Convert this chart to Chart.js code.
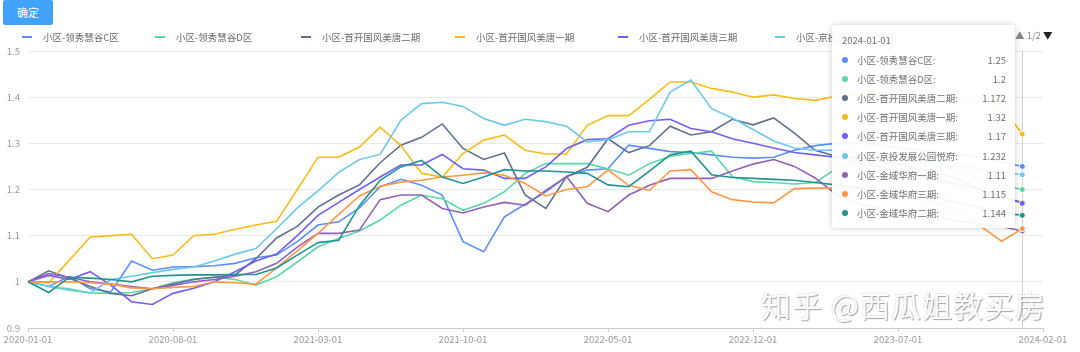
<!DOCTYPE html>
<html>
<head>
<meta charset="utf-8">
<script src="https://cdn.jsdelivr.net/npm/chart.js@4.4.1/dist/chart.umd.min.js"></script>
<style>
    html, body { margin: 0; padding: 0; background: #fff; }
    body { width: 1080px; height: 352px; position: relative; overflow: hidden;
        font-family: "Noto Sans CJK SC", "Noto Sans", sans-serif; }
    #myChart { position: absolute; left: 0; top: 0; }
    .btn { position: absolute; left: 3px; top: 0; width: 50px; height: 25px; background: #40a2fb;
        color: #fff; font-size: 11px; line-height: 25px; text-align: center; border-radius: 2px; }
    .legend-item { position: absolute; top: 30px; height: 14px; font-size: 9.5px; color: #6a6a6a;
        line-height: 14px; white-space: nowrap; }
    .legend-item i { position: absolute; left: 0; top: 6px; width: 10px; height: 2px; }
    .legend-item span { position: absolute; left: 21px; top: 0; }
    .pager { position: absolute; left: 1015px; top: 28px; font-size: 9.5px; color: #888; line-height: 14px; }
    .pager b { color: #222; font-weight: normal; }
    .tip { position: absolute; left: 832px; top: 25px; width: 183px; height: 203px;
        background: rgba(255,255,255,0.93); border-radius: 3px;
        box-shadow: 0 0 6px rgba(0,0,0,0.2); font-size: 9.5px; color: #707070; }
    .tip .title { position: absolute; left: 10px; top: 8px; }
    .tip .row { position: absolute; left: 0; width: 183px; height: 14px; line-height: 14px; }
    .tip .row i { position: absolute; left: 10px; top: 4px; width: 6px; height: 6px; border-radius: 50%; }
    .tip .row span { position: absolute; left: 25px; }
    .tip .row em { position: absolute; right: 9px; font-style: normal; }
    .mark { position: absolute; left: 761px; top: 282px; font-size: 30px; color: rgba(255,255,255,0.95);
        text-shadow: 1px 1px 1px rgba(0,0,0,0.35), -1px -1px 0 rgba(0,0,0,0.08); letter-spacing: 1px; white-space: nowrap; }
</style>
</head>
<body>
<canvas id="myChart" width="1080" height="352"></canvas>
<div class="btn">确定</div>
<div id="legend"></div>
<div class="pager">▲ 1/2 <b>▼</b></div>
<div class="mark">知乎 @西瓜姐教买房</div>
<div class="tip" id="tip"></div>
<script>
let months = [
    '2020-01-01', '2020-02-01', '2020-03-01', '2020-04-01', '2020-05-01', '2020-06-01', '2020-07-01', '2020-08-01', '2020-09-01', '2020-10-01',
    '2020-11-01', '2020-12-01', '2021-01-01', '2021-02-01', '2021-03-01', '2021-04-01', '2021-05-01', '2021-06-01', '2021-07-01', '2021-08-01',
    '2021-09-01', '2021-10-01', '2021-11-01', '2021-12-01', '2022-01-01', '2022-02-01', '2022-03-01', '2022-04-01', '2022-05-01', '2022-06-01',
    '2022-07-01', '2022-08-01', '2022-09-01', '2022-10-01', '2022-11-01', '2022-12-01', '2023-01-01', '2023-02-01', '2023-03-01', '2023-04-01',
    '2023-05-01', '2023-06-01', '2023-07-01', '2023-08-01', '2023-09-01', '2023-10-01', '2023-11-01', '2023-12-01', '2024-01-01', '2024-02-01'
];
let yTicks = [0.9, 1, 1.1, 1.2, 1.3, 1.4, 1.5];

let names = ['小区-领秀慧谷C区', '小区-领秀慧谷D区', '小区-首开国风美唐二期', '小区-首开国风美唐一期', '小区-首开国风美唐三期',
    '小区-京投发展公园悦府', '小区-金域华府一期', '小区-金域华府三期', '小区-金域华府二期'];
let colors = ['#5B8FF9', '#5AD8A6', '#5D7092', '#F6BD16', '#6F5EF9', '#6DC8EC', '#945FB9', '#FF9845', '#1E9493'];

let lingxiuC = [
    1.0, 0.99, 1.012, 0.985, 0.978, 1.045, 1.025, 1.032, 1.033, 1.035,
    1.04, 1.052, 1.058, 1.087, 1.123, 1.13, 1.16, 1.206, 1.222, 1.209,
    1.188, 1.087, 1.065, 1.141, 1.168, 1.195, 1.228, 1.242, 1.245, 1.296,
    1.289, 1.282, 1.28, 1.275, 1.27, 1.268, 1.27, 1.285, 1.295, 1.3,
    1.3, 1.298, 1.29, 1.285, 1.28, 1.275, 1.27, 1.26, 1.25
];
let lingxiuD = [
    1.0, 0.99, 0.982, 0.976, 0.975, 0.977, 0.985, 0.998, 1.006, 1.01,
    1.005, 0.993, 1.011, 1.043, 1.076, 1.094, 1.11, 1.134, 1.166, 1.188,
    1.18, 1.155, 1.17, 1.195, 1.235, 1.256, 1.256, 1.256, 1.245, 1.231,
    1.256, 1.272, 1.278, 1.283, 1.228, 1.217, 1.215, 1.212, 1.215, 1.245,
    1.262, 1.268, 1.265, 1.258, 1.25, 1.24, 1.225, 1.21, 1.2
];
let shoukai2 = [
    1.0, 1.024, 1.008, 0.99, 0.975, 0.97, 0.985, 0.995, 1.005, 1.01,
    1.015, 1.05, 1.095, 1.12, 1.162, 1.188, 1.21, 1.258, 1.296, 1.313,
    1.342, 1.289, 1.265, 1.279, 1.188, 1.159, 1.228, 1.248, 1.31, 1.28,
    1.295, 1.337, 1.318, 1.325, 1.352, 1.34, 1.355, 1.322, 1.285, 1.272,
    1.268, 1.262, 1.255, 1.245, 1.235, 1.22, 1.2, 1.185, 1.172
];
let shoukai1 = [
    1.0, 0.998, 1.047, 1.097, 1.1, 1.103, 1.05, 1.058, 1.1, 1.103,
    1.114, 1.123, 1.131, 1.2, 1.27, 1.27, 1.292, 1.335, 1.295, 1.235,
    1.227, 1.278, 1.307, 1.318, 1.285, 1.277, 1.277, 1.339, 1.36, 1.36,
    1.395, 1.433, 1.433, 1.419, 1.411, 1.4, 1.405, 1.397, 1.393, 1.402,
    1.405, 1.41, 1.405, 1.4, 1.4, 1.395, 1.39, 1.38, 1.32
];
let shoukai3 = [
    1.0, 1.014, 1.005, 1.022, 0.993, 0.957, 0.951, 0.975, 0.986, 1.0,
    1.022, 1.045, 1.06, 1.1, 1.144, 1.172, 1.2, 1.227, 1.253, 1.253,
    1.276, 1.245, 1.242, 1.224, 1.224, 1.249, 1.289, 1.308, 1.31, 1.339,
    1.349, 1.352, 1.332, 1.325, 1.31, 1.3, 1.29, 1.28, 1.275, 1.27,
    1.26, 1.25, 1.24, 1.23, 1.22, 1.21, 1.2, 1.185, 1.17
];
let jingtou = [
    1.0, 0.99, 0.985, 0.976, 1.005, 1.012, 1.02, 1.027, 1.032, 1.045,
    1.06, 1.072, 1.115, 1.16, 1.197, 1.237, 1.265, 1.276, 1.35, 1.386,
    1.389, 1.38, 1.354, 1.339, 1.352, 1.347, 1.337, 1.303, 1.308, 1.325,
    1.325, 1.411, 1.437, 1.375, 1.355, 1.33, 1.305, 1.29, 1.285, 1.285,
    1.28, 1.275, 1.27, 1.262, 1.255, 1.25, 1.245, 1.238, 1.232
];
let jinyu1 = [
    1.0, 1.018, 1.01, 1.0, 0.995, 0.99, 0.985, 0.992, 1.0, 1.005,
    1.012, 1.022, 1.04, 1.075, 1.105, 1.105, 1.112, 1.178, 1.188, 1.188,
    1.159, 1.149, 1.162, 1.172, 1.166, 1.198, 1.228, 1.17, 1.152, 1.188,
    1.209, 1.224, 1.224, 1.224, 1.24, 1.255, 1.265, 1.25, 1.225, 1.19,
    1.17, 1.16, 1.15, 1.14, 1.14, 1.13, 1.125, 1.12, 1.11
];
let jinyu3 = [
    1.0, 1.0, 1.0, 0.998, 0.995, 0.987, 0.985, 0.988, 0.99, 1.0,
    0.998, 0.995, 1.03, 1.067, 1.105, 1.146, 1.186, 1.207, 1.216, 1.22,
    1.227, 1.231, 1.236, 1.231, 1.213, 1.186, 1.2, 1.206, 1.242, 1.209,
    1.198, 1.24, 1.243, 1.195, 1.178, 1.173, 1.171, 1.202, 1.203, 1.203,
    1.203, 1.2, 1.19, 1.18, 1.17, 1.15, 1.12, 1.088, 1.115
];
let jinyu2 = [
    1.0, 0.977, 1.01, 1.008, 1.005, 1.0, 1.012, 1.014, 1.015, 1.015,
    1.016, 1.016, 1.03, 1.058, 1.085, 1.09, 1.165, 1.22, 1.249, 1.263,
    1.227, 1.213, 1.227, 1.243, 1.24, 1.24, 1.238, 1.235, 1.21, 1.206,
    1.24, 1.275, 1.283, 1.232, 1.226, 1.224, 1.222, 1.22, 1.215, 1.21,
    1.205, 1.2, 1.195, 1.19, 1.18, 1.17, 1.16, 1.15, 1.144
];

let series = [lingxiuC, lingxiuD, shoukai2, shoukai1, shoukai3, jingtou, jinyu1, jinyu3, jinyu2];
let activeIndex = 48;
let legendLeft = [22, 155, 301, 455, 618, 775];

// legend (first page only, like the source)
const buildLegend = () => {
    let box = document.getElementById('legend');
    for (let i = 0; i < legendLeft.length; i++) {
        let d = document.createElement('div');
        d.className = 'legend-item';
        d.style.left = legendLeft[i] + 'px';
        d.innerHTML = '<i style="background:' + colors[i] + '"></i><span>' + names[i] + '</span>';
        box.appendChild(d);
    }
}

// hover box for the active month
const buildTip = () => {
    let tip = document.getElementById('tip');
    let html = '<div class="title">' + months[activeIndex] + '</div>';
    for (let i = 0; i < names.length; i++) {
        let top = 28 + i * 19.1;
        html += '<div class="row" style="top:' + top + 'px"><i style="background:' + colors[i] + '"></i>'
            + '<span>' + names[i] + ':</span><em>' + series[i][activeIndex] + '</em></div>';
    }
    tip.innerHTML = html;
}

const crosshair = {
    id: 'crosshair',
    beforeDatasetsDraw(chart) {
        let x = chart.scales.x.getPixelForValue(activeIndex);
        let ctx = chart.ctx;
        ctx.save();
        ctx.strokeStyle = '#cfcfcf';
        ctx.lineWidth = 1;
        ctx.beginPath();
        ctx.moveTo(Math.round(x) + 0.5, chart.chartArea.top);
        ctx.lineTo(Math.round(x) + 0.5, chart.chartArea.bottom);
        ctx.stroke();
        ctx.restore();
    }
};

let datasets = [];
for (let i = 0; i < series.length; i++) {
    datasets.push({
        label: names[i],
        data: series[i],
        borderColor: colors[i],
        backgroundColor: colors[i],
        borderWidth: 1.6,
        tension: 0,
        order: series.length - i,
        pointRadius: ctx => ctx.dataIndex === activeIndex ? 3 : 0,
        pointBorderColor: '#fff',
        pointBorderWidth: 1,
        pointBackgroundColor: colors[i],
    });
}

let ctx = document.getElementById('myChart').getContext('2d');
let myChart = new Chart(ctx, {
    type: 'line',
    data: { labels: months, datasets: datasets },
    plugins: [crosshair],
    options: {
        responsive: false,
        animation: false,
        layout: { padding: { left: 0, right: 37, top: 51, bottom: 0 } },
        plugins: { legend: { display: false }, tooltip: { enabled: false } },
        scales: {
            x: {
                type: 'category',
                offset: false,
                afterFit: s => { s.height = 24; },
                border: { display: true, color: '#cccccc' },
                grid: {
                    display: true,
                    drawOnChartArea: false,
                    drawTicks: true,
                    tickLength: 4,
                    color: c => (c.index % 7 === 0 ? '#cccccc' : 'rgba(0,0,0,0)'),
                },
                ticks: {
                    autoSkip: false,
                    maxRotation: 0,
                    padding: 2,
                    color: '#999',
                    font: { size: 9.5, family: '"Noto Sans CJK SC", sans-serif' },
                    callback: (v, i) => (i % 7 === 0 ? months[i] : ''),
                },
            },
            y: {
                min: yTicks[0],
                max: yTicks[yTicks.length - 1],
                afterFit: s => { s.width = 28; },
                afterBuildTicks: s => { s.ticks = yTicks.map(v => ({ value: v })); },
                border: { display: false },
                grid: { color: '#e9e9e9', drawTicks: false, lineWidth: 1 },
                ticks: {
                    padding: 8,
                    color: '#999',
                    font: { size: 9.5, family: '"Noto Sans CJK SC", sans-serif' },
                    callback: v => String(Math.round(v * 10) / 10),
                },
            },
        },
    },
});

buildLegend();
buildTip();
</script>
</body>
</html>
